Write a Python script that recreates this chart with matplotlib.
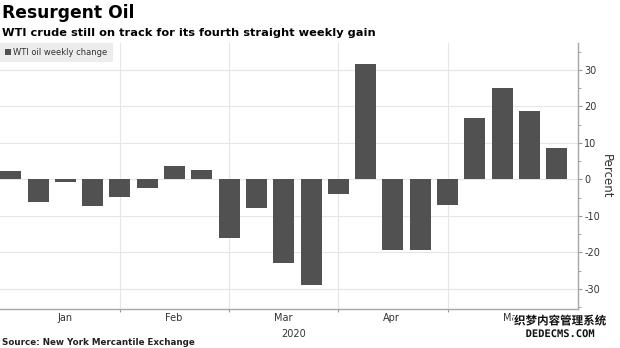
import matplotlib
matplotlib.use("Agg")
import matplotlib.pyplot as plt
import matplotlib.patheffects as pe
from matplotlib.ticker import MultipleLocator

# weekly WTI % change, Fridays Jan 3 .. May 22, 2020
weeks = ["01-03", "01-10", "01-17", "01-24", "01-31", "02-07", "02-14",
         "02-21", "02-28", "03-06", "03-13", "03-20", "03-27", "04-03",
         "04-10", "04-17", "04-24", "05-01", "05-08", "05-15", "05-22"]
weekly_change = [2.3, -6.2, -0.7, -7.2, -4.7, -2.3, 3.6, 2.6, -16.0, -7.7,
                 -22.8, -29.0, -3.9, 31.7, -19.4, -19.4, -7.0, 16.8, 25.0,
                 18.9, 8.7]
month_names = ["Jan", "Feb", "Mar", "Apr", "May"]
month_breaks = [4, 8, 12, 16]

W, H = 620, 348
fig = plt.figure(figsize=(W / 100, H / 100), dpi=100)
fig.patch.set_facecolor("white")

ax = fig.add_axes([0, 1 - 309 / H, 578 / W, (309 - 43) / H])
x = list(range(len(weekly_change)))
ax.bar(x, weekly_change, width=0.77, color="#515151", zorder=3,
       label="WTI oil weekly change")

ax.set_xlim(-0.396, 20.78)
ax.set_ylim(-35.5, 37.4)

# grid
ax.yaxis.set_major_locator(MultipleLocator(10))
ax.yaxis.set_minor_locator(MultipleLocator(5))
ax.set_xticks(month_breaks)
ax.set_xticklabels([])
ax.grid(True, which="major", color="#e6e6e6", lw=0.8, zorder=0)

for s in ("top", "left"):
    ax.spines[s].set_visible(False)
for s in ("right", "bottom"):
    ax.spines[s].set_color("#a6a6a6")
    ax.spines[s].set_linewidth(1.0)

ax.yaxis.tick_right()
ax.yaxis.set_label_position("right")
ax.tick_params(axis="y", which="major", direction="out", length=3,
               color="#999999", labelsize=7, labelcolor="#333333", pad=1.5)
ax.tick_params(axis="y", which="minor", direction="out", length=2,
               color="#999999")
ax.tick_params(axis="x", which="major", direction="out", length=2,
               color="#999999")
ax.set_yticks([-30, -20, -10, 0, 10, 20, 30])
ax.set_yticklabels(["-30", "-20", "-10", "0", "10", "20", "30"])
ax.set_ylabel("Percent", rotation=270, fontsize=8.5, color="#333333",
              labelpad=9)

# month labels under the axis
trans = ax.get_xaxis_transform()
for name, xm in zip(month_names, [2.0, 5.97, 9.97, 13.96, 18.4]):
    ax.text(xm, -0.035, name, transform=trans, ha="center", va="center",
            fontsize=7, color="#333333")
ax.text(10.35, -0.075, "2020", transform=trans, ha="center", va="top",
        fontsize=7, color="#333333")

leg = ax.legend(loc="upper left", bbox_to_anchor=(0, 1), borderaxespad=0,
                frameon=True, fancybox=False, facecolor="#ececec",
                edgecolor="none", framealpha=1, fontsize=6,
                handlelength=0.7, handleheight=0.7, handletextpad=0.3,
                borderpad=0.6)
for t in leg.get_texts():
    t.set_color("#333333")

# titles and source
fig.text(0.003, 1 - 18.5 / H, "Resurgent Oil", fontsize=12.3,
         fontweight="bold", color="black", va="baseline")
fig.text(0.003, 1 - 35.5 / H,
         "WTI crude still on track for its fourth straight weekly gain",
         fontsize=8.2, fontweight="bold", color="black", va="baseline")
fig.text(0.003, 1 - 345 / H, "Source: New York Mercantile Exchange",
         fontsize=6.3, fontweight="bold", color="#222222", va="baseline")

# site stamp in the lower right corner
stroke = [pe.withStroke(linewidth=2, foreground="white")]
fig.text(560 / W, 1 - 321 / H, "织梦内容管理系统", fontsize=8.3,
         fontweight="bold", family=["Noto Sans CJK SC", "DejaVu Sans"],
         ha="center", va="center", color="#111111", path_effects=stroke)
fig.text(560 / W, 1 - 334 / H, "DEDECMS.COM", fontsize=7.5,
         fontweight="bold", family="DejaVu Sans Mono",
         ha="center", va="center", color="#111111", path_effects=stroke)

fig.savefig("out.png", dpi=100)
